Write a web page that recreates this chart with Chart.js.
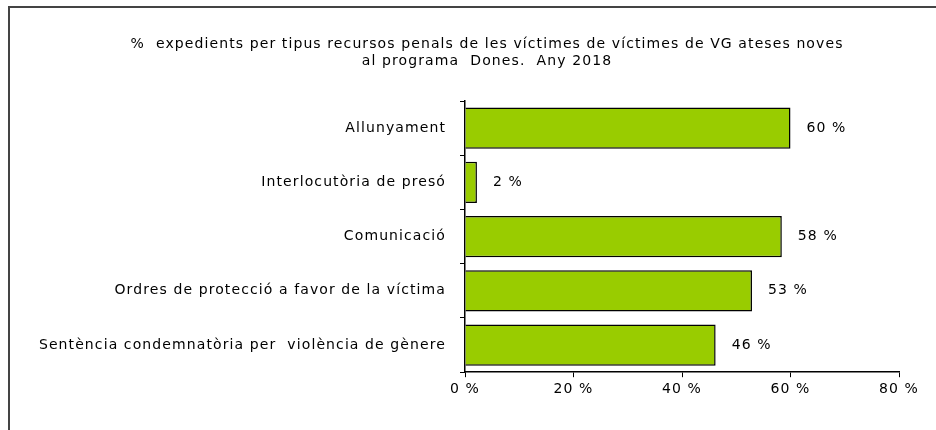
<!DOCTYPE html>
<html>
<head>
<meta charset="utf-8">
<script src="https://cdn.jsdelivr.net/npm/chart.js@4/dist/chart.umd.min.js"></script>
<style>
    html, body { margin: 0; padding: 0; background: #fff; }
    #wrap { position: relative; width: 936px; height: 430px; overflow: hidden; }
    #frame { position: absolute; left: 8px; top: 6px; width: 960px; height: 460px; border-left: 2px solid #444; border-top: 2px solid #444; }
    #chart { position: absolute; left: 0; top: 0; }
</style>
</head>
<body>
<div id="wrap">
    <div id="frame"></div>
    <canvas id="chart" width="936" height="430"></canvas>
</div>
<script>
// chart data
const titleLines = [
    '%  expedients per tipus recursos penals de les víctimes de víctimes de VG ateses noves',
    'al programa  Dones.  Any 2018'
];
const categories = [
    'Allunyament',
    'Interlocutòria de presó',
    'Comunicació',
    'Ordres de protecció a favor de la víctima',
    'Sentència condemnatòria per  violència de gènere'
];
const values = [60.0, 2.2, 58.4, 52.9, 46.2];
const valueLabels = ['60 %', '2 %', '58 %', '53 %', '46 %'];
const xTicks = [0, 20, 40, 60, 80];

const FONT = "'DejaVu Sans', sans-serif";
const FONT_SIZE = 14;
const SPACING = '1.1px';

// the old bitmap font is wide, so spread the letters a bit
const spacingPlugin = {
    id: 'spacing',
    beforeUpdate(chart) { chart.ctx.letterSpacing = SPACING; },
    beforeDraw(chart) { chart.ctx.letterSpacing = SPACING; }
};

// title drawn by hand so it can sit off-centre like the original
const titlePlugin = {
    id: 'titleLines',
    afterDraw(chart) {
        const ctx = chart.ctx;
        ctx.save();
        ctx.fillStyle = '#000';
        ctx.font = FONT_SIZE + 'px ' + FONT;
        ctx.textAlign = 'center';
        ctx.textBaseline = 'middle';
        titleLines.forEach((line, i) => {
            ctx.fillText(line, 487, 44 + i * 17);
        });
        ctx.restore();
    }
};

// value labels to the right of the bars
const valuePlugin = {
    id: 'valueLabels',
    afterDatasetsDraw(chart) {
        const ctx = chart.ctx;
        const meta = chart.getDatasetMeta(0);
        ctx.save();
        ctx.fillStyle = '#000';
        ctx.font = FONT_SIZE + 'px ' + FONT;
        ctx.textAlign = 'left';
        ctx.textBaseline = 'middle';
        meta.data.forEach((bar, i) => {
            ctx.fillText(valueLabels[i], bar.x + 16, bar.y);
        });
        ctx.restore();
    }
};

new Chart(document.getElementById('chart'), {
    type: 'bar',
    data: {
        labels: categories,
        datasets: [{
            data: values,
            backgroundColor: '#99cc00',
            borderColor: '#000',
            borderWidth: 1.5,
            categoryPercentage: 1,
            barPercentage: 0.76
        }]
    },
    options: {
        indexAxis: 'y',
        responsive: false,
        animation: false,
        layout: {
            padding: { top: 101, right: 37, bottom: 28, left: 0 }
        },
        plugins: {
            legend: { display: false },
            title: { display: false },
            tooltip: { enabled: false }
        },
        scales: {
            x: {
                min: 0,
                max: 80,
                afterBuildTicks: (scale) => {
                    scale.ticks = xTicks.map(v => ({ value: v }));
                },
                ticks: {
                    color: '#000',
                    font: { family: FONT, size: FONT_SIZE },
                    padding: 4,
                    maxRotation: 0,
                    callback: (v) => v + ' %'
                },
                grid: {
                    drawOnChartArea: false,
                    tickLength: 5,
                    color: '#000'
                },
                border: { color: '#000', width: 1.5 }
            },
            y: {
                afterFit: (scale) => { scale.width = 465; },
                ticks: {
                    color: '#000',
                    font: { family: FONT, size: FONT_SIZE },
                    padding: 14
                },
                grid: {
                    offset: true,
                    drawOnChartArea: false,
                    tickLength: 5,
                    color: '#000'
                },
                border: { color: '#000', width: 1.5 }
            }
        }
    },
    plugins: [spacingPlugin, titlePlugin, valuePlugin]
});
</script>
</body>
</html>
